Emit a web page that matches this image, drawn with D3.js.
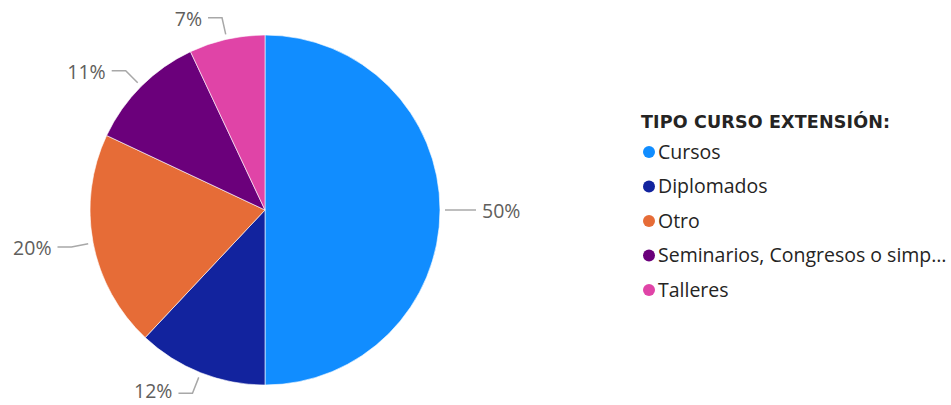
<!DOCTYPE html>
<html>
<head>
<meta charset="utf-8">
<script src="https://cdn.jsdelivr.net/npm/d3@7"></script>
<style>
  html, body { margin: 0; padding: 0; background: #fff; }
  svg { display: block; }
</style>
</head>
<body>
<svg id="chart" width="951" height="405"></svg>
<script>
// Tipo de curso de extensión: share of each course type
const categories = ["Cursos", "Diplomados", "Otro", "Seminarios, Congresos o simposios", "Talleres"];
const values = [50, 12, 20, 11, 7];
const colors = ["#118DFF", "#12239E", "#E66C37", "#6B007B", "#E044A7"];
const legendTitle = "TIPO CURSO EXTENSIÓN:";

const width = 951, height = 405;
const svg = d3.select("#chart");
const cx = 265, cy = 210, radius = 175;

const pie = d3.pie().sort(null).value(d => d.value);
const data = categories.map((c, i) => ({ name: c, value: values[i], color: colors[i] }));
const arcs = pie(data);
const total = d3.sum(values);

const arc = d3.arc().innerRadius(0).outerRadius(radius);

const g = svg.append("g").attr("transform", `translate(${cx},${cy})`);

g.selectAll("path.slice")
  .data(arcs)
  .join("path")
  .attr("class", "slice")
  .attr("d", arc)
  .attr("fill", d => d.data.color)
  .attr("stroke", "#fff")
  .attr("stroke-width", 0.6);

// Leader lines: radial segment, then a short horizontal run to the label
const startArc = d3.arc().innerRadius(radius + 5).outerRadius(radius + 5);
const elbowArc = d3.arc().innerRadius(radius + 22).outerRadius(radius + 22);
const fmt = d => Math.round(d.data.value / total * 100) + "%";
const labelMaxY = height - cy - 14;   // keep labels inside the bottom edge

arcs.forEach(d => {
  const mid = (d.startAngle + d.endAngle) / 2;
  const p0 = startArc.centroid({ startAngle: mid, endAngle: mid });
  const p1 = elbowArc.centroid({ startAngle: mid, endAngle: mid });
  const right = Math.sin(mid) > 0;
  const p2 = [p1[0] + (right ? 14 : -14), p1[1]];
  g.append("polyline")
    .attr("points", [p0, p1, p2].map(p => p.join(",")).join(" "))
    .attr("fill", "none")
    .attr("stroke", "#A8A8A8")
    .attr("stroke-width", 1.5);
  g.append("text")
    .attr("x", p2[0] + (right ? 6 : -6))
    .attr("y", Math.min(p2[1] + 1, labelMaxY))
    .attr("dy", "0.35em")
    .attr("text-anchor", right ? "start" : "end")
    .attr("font-family", "'Open Sans', sans-serif")
    .attr("font-size", 19.5)
    .attr("fill", "#605E5C")
    .text(fmt(d));
});

// Legend
const lg = svg.append("g").attr("transform", "translate(641,0)");
lg.append("text")
  .attr("x", 0).attr("y", 128)
  .attr("font-family", "'DejaVu Sans', sans-serif")
  .attr("font-weight", "bold")
  .attr("font-size", 17.5)
  .attr("textLength", 249)
  .attr("lengthAdjust", "spacing")
  .attr("fill", "#252423")
  .text(legendTitle);

const itemY = d3.scalePoint().domain(categories).range([152, 290]);
const maxTextWidth = 293;

categories.forEach((c, i) => {
  const y = itemY(c);
  lg.append("circle")
    .attr("cx", 8).attr("cy", y).attr("r", 6)
    .attr("fill", colors[i]);
  const t = lg.append("text")
    .attr("x", 17).attr("y", y)
    .attr("dy", "0.35em")
    .attr("font-family", "'Open Sans', sans-serif")
    .attr("font-size", 19.5)
    .attr("fill", "#252423")
    .text(c);
  // Truncate long names with an ellipsis to fit the legend width
  let s = c;
  while (t.node().getComputedTextLength() > maxTextWidth && s.length > 1) {
    s = s.slice(0, -1);
    t.text(s.trimEnd() + "…");
  }
});
</script>
</body>
</html>
